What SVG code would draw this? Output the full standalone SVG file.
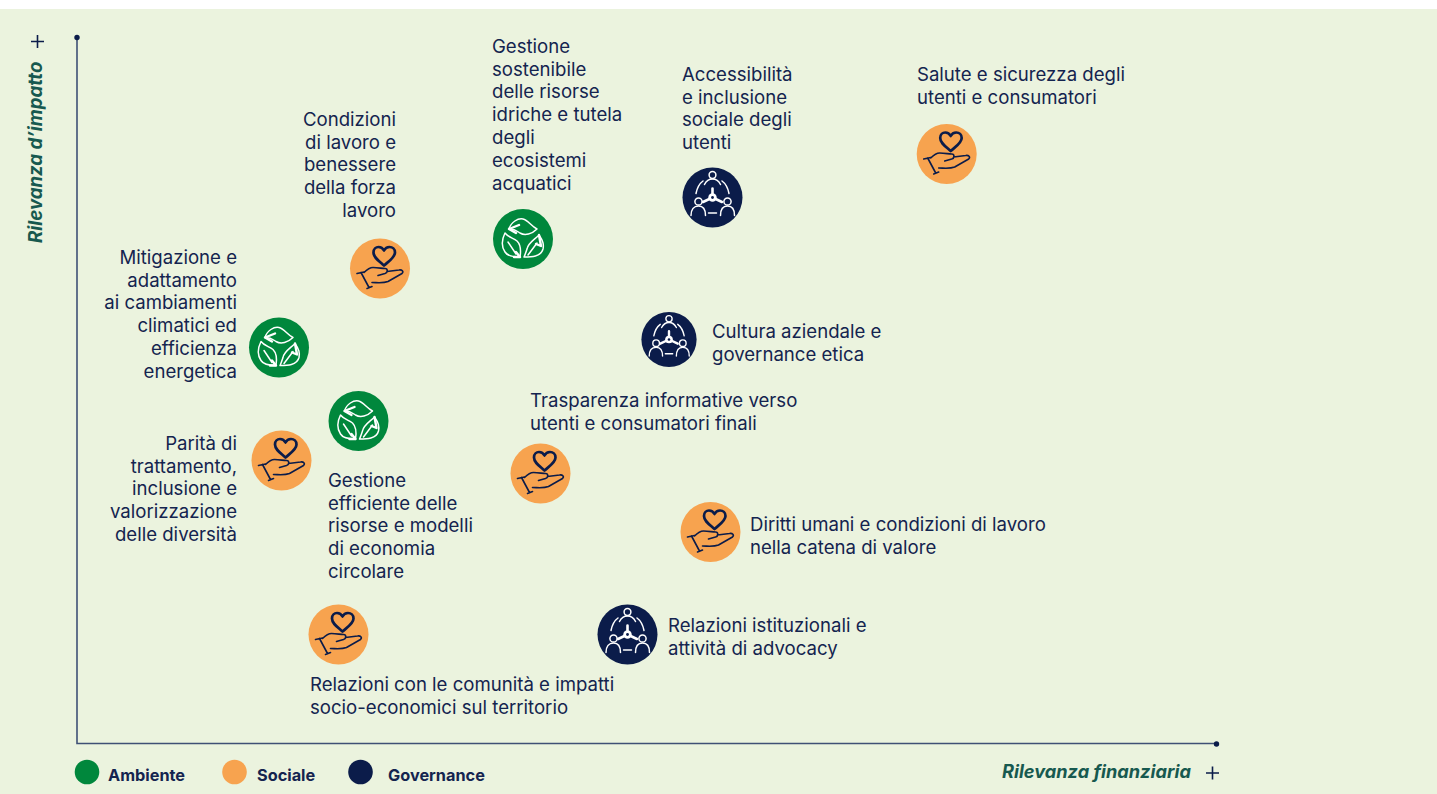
<svg xmlns="http://www.w3.org/2000/svg" width="1437" height="794" viewBox="0 0 1437 794">
<style>
.t{font-family:"Inter","Liberation Sans",sans-serif;font-size:18.6px;fill:#14244f}
.e{text-anchor:end}
.leg{font-family:"Inter","Liberation Sans",sans-serif;font-size:16.3px;font-weight:700;fill:#14244f}
.ax{font-family:"Inter","Liberation Sans",sans-serif;font-size:18.2px;font-weight:700;font-style:italic;fill:#17594f}
.axis{fill:none;stroke:#3f5075;stroke-width:1.6}
.pt{fill:#0b1c4a}
.plus{fill:none;stroke:#0b1c4a;stroke-width:1.6}
.hs{fill:none;stroke:#0b1c4a;stroke-width:1.6;stroke-linecap:round;stroke-linejoin:round}
.ws{fill:none;stroke:#fff;stroke-width:1.5;stroke-linecap:round;stroke-linejoin:round}
.wb{fill:none;stroke:#fff;stroke-width:2.4;stroke-linecap:round;stroke-linejoin:round}
</style>
<defs>
<g id="soc">
<circle r="30" fill="#f7a34f"/>
<path d="M4 -3C-1 -7.500 -6.500 -11 -6.500 -16C-6.500 -19.500 -4 -21.500 -1.500 -21.500C1 -21.500 3 -20 4 -18C5 -20 7 -21.500 9.500 -21.500C12.500 -21.500 15 -19.500 15 -16C15 -11 9 -7.500 4 -3Z" fill="none" stroke="#0b1c4a" stroke-width="2.700" stroke-linejoin="round"/>
<path class="hs" d="M-23 5L-16 3.500M-19 4L-11 19M-13 20L-8 18M-16 4C-13 1 -10 -1 -7 -1C-2 -1 2 0 5 0C8 0 8 4 5 5L-2 7M7 3L19 1.500C22 1 24 3 22 5L8 13C3 15 -3 14 -8 14"/>
</g>
<g id="amb">
<circle r="30" fill="#00873c"/>
<path class="ws" d="M-14 -10C-12 -17 -5 -21 0 -20C5 -19 8 -13 14 -10C9 -5 2 -3 -3 -6C-6 -8 -8 -10 -14 -10Z"/>
<path class="wb" d="M-14 -10L-4 -14M-14 -10L-7 -6"/>
<path class="ws" d="M-18 -6C-21 0 -22 7 -18 13C-15 18 -8 18 -3 18C-2 12 -2 6 -6 2C-10 -1 -15 -2 -18 -6ZM-15 3L-7 15"/>
<path class="wb" d="M-7 13L-3 18L-9 18"/>
<path class="ws" d="M1 18C8 18 18 18 20 10C21 5 20 2 16 -4C11 1 5 4 4 10C3 13 2 16 1 18ZM5 16L14 4"/>
<path class="wb" d="M16 -4L18 7L13 5"/>
</g>
<g id="gov">
<circle r="30" fill="#0b1c4a"/>
<g class="ws">
<circle cy="-22.500" r="3.400"/>
<path d="M-8 -13C-6 -17 -3 -18.500 0 -18.500C3 -18.500 6 -17 8 -13"/>
<path d="M-16.500 -4C-15.500 -9 -13 -14 -9.500 -16.500M16.500 -4C15.500 -9 13 -14 9.500 -16.500"/>
<circle cx="-14" cy="4" r="3.600"/>
<path d="M-21.500 18C-21.500 12 -18.500 8.500 -14 8.500C-9.500 8.500 -7 12 -7 18"/>
<circle cx="15" cy="4" r="3.600"/>
<path d="M8 18C8 12 10.500 8.500 15 8.500C19.500 8.500 22 12 22 18"/>
<path d="M-4 15.500L4 15.500"/>
</g>
<path d="M0 -9L0 0M-9.500 4.500L0 0L9.500 4.500" fill="none" stroke="#fff" stroke-width="2.600" stroke-linecap="round"/>
<circle r="4.200" fill="#fff"/>
<circle r="1.400" fill="#0b1c4a"/>
</g>
</defs>
<rect width="1437" height="794" fill="#fff"/>
<rect y="9" width="1437" height="785" fill="#ebf3de"/>
<g id="connectors">
<path class="axis" d="M77 38V743.500H1216"/>
<circle class="pt" cx="77" cy="37.500" r="2.700"/>
<circle class="pt" cx="1216.500" cy="744" r="2.700"/>
</g>
<g id="axis-y">
<path class="plus" d="M31 41.500H44M37.500 35V48"/>
<text class="ax" style="font-size:18.600px" transform="translate(42 243) rotate(-90)">Rilevanza d’impatto</text>
</g>
<g id="axis-x">
<text class="ax" x="1002" y="778">Rilevanza finanziaria</text>
<path class="plus" d="M1206 773H1219M1212.500 766.500V779.500"/>
</g>
<g id="legend">
<circle cx="87" cy="772" r="12.300" fill="#00873c"/><text class="leg" x="108" y="780.500">Ambiente</text>
<circle cx="234.500" cy="772" r="12.300" fill="#f7a34f"/><text class="leg" x="257" y="780.500">Sociale</text>
<circle cx="360.500" cy="772" r="12.300" fill="#0b1c4a"/><text class="leg" x="388" y="780.500">Governance</text>
</g>
<g id="n-salute"><use href="#soc" x="946.700" y="154"/><text class="t" x="917" y="80.500">Salute e sicurezza degli<tspan x="917" dy="23">utenti e consumatori</tspan></text></g>
<g id="n-accessibilita"><use href="#gov" x="712.500" y="197.500"/><text class="t" x="682" y="80.500">Accessibilità<tspan x="682" dy="23">e inclusione</tspan><tspan x="682" dy="22.800">sociale degli</tspan><tspan x="682" dy="22.800">utenti</tspan></text></g>
<g id="n-idriche"><use href="#amb" x="523" y="239"/><text class="t" x="492" y="52.500">Gestione<tspan x="492" dy="23">sostenibile</tspan><tspan x="492" dy="22.800">delle risorse</tspan><tspan x="492" dy="22.800">idriche e tutela</tspan><tspan x="492" dy="22.800">degli</tspan><tspan x="492" dy="22.800">ecosistemi</tspan><tspan x="492" dy="22.800">acquatici</tspan></text></g>
<g id="n-condizioni"><use href="#soc" x="380" y="268.500"/><text class="t e" x="396" y="125.500">Condizioni<tspan x="396" dy="23">di lavoro e</tspan><tspan x="396" dy="22.800">benessere</tspan><tspan x="396" dy="22.800">della forza</tspan><tspan x="396" dy="22.800">lavoro</tspan></text></g>
<g id="n-mitigazione"><use href="#amb" x="279" y="347.500"/><text class="t e" x="237" y="263.500">Mitigazione e<tspan x="237" dy="23">adattamento</tspan><tspan x="237" dy="22.800">ai cambiamenti</tspan><tspan x="237" dy="22.800">climatici ed</tspan><tspan x="237" dy="22.800">efficienza</tspan><tspan x="237" dy="22.800">energetica</tspan></text></g>
<g id="n-cultura"><use href="#gov" transform="translate(669 339.500) scale(.92)"/><text class="t" x="712" y="337.500">Cultura aziendale e<tspan x="712" dy="23">governance etica</tspan></text></g>
<g id="n-risorse"><use href="#amb" x="358.500" y="421"/><text class="t" x="328" y="486.500">Gestione<tspan x="328" dy="23">efficiente delle</tspan><tspan x="328" dy="22.800">risorse e modelli</tspan><tspan x="328" dy="22.800">di economia</tspan><tspan x="328" dy="22.800">circolare</tspan></text></g>
<g id="n-parita"><use href="#soc" x="281.500" y="460.500"/><text class="t e" x="237" y="449.500">Parità di<tspan x="237" dy="23">trattamento,</tspan><tspan x="237" dy="22.800">inclusione e</tspan><tspan x="237" dy="22.800">valorizzazione</tspan><tspan x="237" dy="22.800">delle diversità</tspan></text></g>
<g id="n-trasparenza"><use href="#soc" x="540.500" y="473.500"/><text class="t" x="530" y="406.500">Trasparenza informative verso<tspan x="530" dy="23">utenti e consumatori finali</tspan></text></g>
<g id="n-diritti"><use href="#soc" x="710.500" y="532"/><text class="t" x="750" y="530.500">Diritti umani e condizioni di lavoro<tspan x="750" dy="23">nella catena di valore</tspan></text></g>
<g id="n-relazioni-ist"><use href="#gov" x="627.500" y="634.500"/><text class="t" x="668" y="631.500">Relazioni istituzionali e<tspan x="668" dy="23">attività di advocacy</tspan></text></g>
<g id="n-comunita"><use href="#soc" x="338.500" y="634.500"/><text class="t" x="310" y="690.500">Relazioni con le comunità e impatti<tspan x="310" dy="23">socio-economici sul territorio</tspan></text></g>
</svg>
